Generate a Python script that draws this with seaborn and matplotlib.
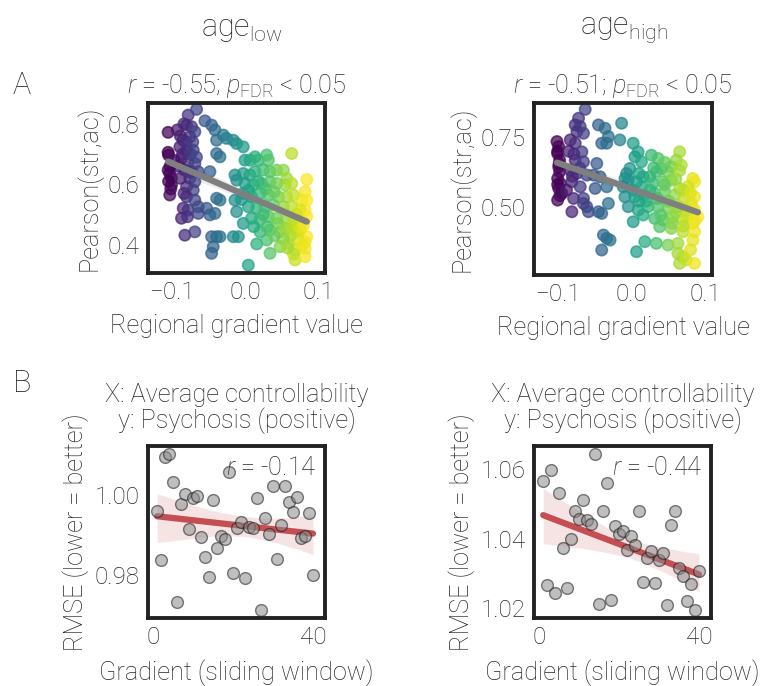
import numpy as np
import pandas as pd
import matplotlib
matplotlib.use("Agg")
import matplotlib.pyplot as plt
import seaborn as sns

# ---------------- data ----------------
# Panel A, age_low: regional gradient value vs Pearson(str,ac)
grad_low = [
    -0.1046, -0.1046, -0.1040, -0.1046, -0.1023, -0.1000, -0.1000, -0.1023,
    -0.0773, -0.0659, -0.0795, -0.0727, -0.0682, -0.0841, -0.0750, -0.0886,
    -0.0795, -0.0704, -0.0864, -0.0773, -0.0682, -0.0818, -0.0727, -0.0636,
    -0.0750, -0.0682, -0.0795, -0.0704, -0.0795, -0.0682, -0.0841, -0.0773,
    -0.0864, -0.0782, -0.0818, -0.0682, -0.0636, -0.0522, -0.0636,
    -0.0545, -0.0454, -0.0409, -0.0386, -0.0295, -0.0386, -0.0340, -0.0477,
    -0.0386, -0.0340, -0.0477, -0.0409, -0.0454, -0.0386, -0.0432, -0.0454, -0.0340,
    -0.0250, -0.0159, -0.0113, -0.0136, -0.0113, -0.0136, -0.0113, -0.0159, -0.0090,
    -0.0023, 0.0000, 0.0068, 0.0137, 0.0182, 0.0296, 0.0319, 0.0637,
    -0.0023, 0.0068, 0.0137, 0.0250, 0.0341, 0.0432, 0.0523, 0.0569, 0.0842,
    0.0000, 0.0114, 0.0228, 0.0341, 0.0432, 0.0546, 0.0637, 0.0819,
    -0.0023, 0.0091, 0.0205, 0.0319, 0.0455, 0.0569, 0.0660, 0.0774, 0.0842, 0.0819,
    0.0046, 0.0160, 0.0273, 0.0387, 0.0523, 0.0637, 0.0751,
    -0.0023, 0.0091, 0.0205, 0.0319, 0.0432, 0.0546, 0.0660, 0.0774, 0.0842,
    0.0205, 0.0341, 0.0478, 0.0614, 0.0705, 0.0842, 0.0819,
    0.0160, 0.0296, 0.0341, 0.0478, 0.0592, 0.0682, 0.0682, 0.0819, 0.0819, 0.0046,
    -0.0920, -0.0880, -0.0830, -0.0850, -0.0900, -0.0800, -0.0740, -0.0710,
    -0.0660, -0.0880, -0.0830, -0.0760, -0.0970, -0.1020, -0.1040, -0.1010,
    0.0450, 0.0550, 0.0650, 0.0750, 0.0720, 0.0620, 0.0520, 0.0400, 0.0300,
    0.0780, 0.0660, 0.0580, 0.0800, 0.0700, 0.0250, 0.0120,
    0.0050, 0.0180, 0.0280, 0.0400, -0.0050,
]
corr_low = [
    0.772, 0.706, 0.697, 0.647, 0.636, 0.620, 0.598, 0.565,
    0.829, 0.848, 0.796, 0.791, 0.774, 0.746, 0.757, 0.724,
    0.713, 0.713, 0.686, 0.675, 0.669, 0.647, 0.642, 0.642,
    0.620, 0.609, 0.592, 0.581, 0.559, 0.548, 0.521, 0.515,
    0.488, 0.493, 0.432, 0.443, 0.526, 0.521, 0.504,
    0.810, 0.796, 0.780, 0.746, 0.763, 0.702, 0.691, 0.642,
    0.554, 0.548, 0.499, 0.504, 0.427, 0.427, 0.394, 0.372, 0.427,
    0.752, 0.746, 0.735, 0.631, 0.614, 0.548, 0.510, 0.427, 0.427,
    0.724, 0.680, 0.680, 0.691, 0.680, 0.697, 0.680, 0.702,
    0.636, 0.631, 0.642, 0.647, 0.642, 0.647, 0.647, 0.620, 0.616,
    0.603, 0.598, 0.603, 0.609, 0.603, 0.598, 0.603, 0.576,
    0.570, 0.559, 0.570, 0.565, 0.559, 0.559, 0.565, 0.548, 0.548, 0.515,
    0.526, 0.521, 0.526, 0.532, 0.526, 0.526, 0.515,
    0.471, 0.488, 0.482, 0.493, 0.488, 0.482, 0.482, 0.482, 0.493,
    0.443, 0.449, 0.443, 0.449, 0.443, 0.427, 0.410,
    0.403, 0.416, 0.372, 0.394, 0.405, 0.383, 0.350, 0.388, 0.361, 0.333,
    0.780, 0.760, 0.800, 0.700, 0.660, 0.740, 0.700, 0.740,
    0.690, 0.620, 0.570, 0.640, 0.680, 0.660, 0.610, 0.585,
    0.470, 0.455, 0.460, 0.450, 0.420, 0.430, 0.420, 0.430, 0.460,
    0.400, 0.370, 0.390, 0.465, 0.500, 0.500, 0.460,
    0.580, 0.610, 0.585, 0.575, 0.550,
]

# Panel A, age_high
grad_high = [
    -0.1009, -0.0986, -0.1000, -0.0973, -0.0986, -0.0973, -0.1000, -0.0964, -0.0986, -0.1000, -0.0941,
    -0.0627, -0.0717, -0.0762, -0.0694, -0.0739, -0.0650, -0.0829, -0.0762, -0.0672, -0.0762, -0.0650,
    -0.0829, -0.0739, -0.0605, -0.0807, -0.0694, -0.0784, -0.0650, -0.0807, -0.0605, -0.0582, -0.0650,
    -0.0447, -0.0358, -0.0313, -0.0403, -0.0335, -0.0470, -0.0515, -0.0425, -0.0492, -0.0335,
    -0.0447, -0.0403, -0.0313, -0.0380, -0.0335, -0.0403, -0.0290,
    -0.0088,
    -0.0134, -0.0157, 0.0023, 0.0090, 0.0046, -0.0022, -0.0067, 0.0135, 0.0270, 0.0360, 0.0652,
    0.0607, 0.0674, 0.0539, 0.0495, 0.0405, 0.0337, 0.0248, 0.0158, 0.0068, -0.0044, 0.0831, 0.0854,
    -0.0112, 0.0023, 0.0135, 0.0292, 0.0427, 0.0539, 0.0652, 0.0764,
    -0.0089, 0.0046, 0.0180, 0.0315, 0.0450, 0.0584, 0.0719, 0.0854, 0.0809,
    -0.0044, 0.0090, 0.0225, 0.0360, 0.0495, 0.0629, 0.0741, 0.0899,
    0.0023, 0.0158, 0.0315, 0.0427, 0.0562, 0.0697, 0.0831,
    0.0382, 0.0539, 0.0697, 0.0854,
    0.0180, 0.0337, 0.0495, 0.0629, 0.0831,
    0.0068, 0.0629, 0.0697, 0.0652, 0.0741, 0.0854,
    -0.1000, -0.0980, -0.1000, -0.0970, -0.0850, -0.0780, -0.0700, -0.0800, -0.0880,
    0.0200, 0.0350, 0.0500, 0.0600, 0.0750, 0.0850, 0.0450, 0.0600, 0.0700, 0.0800,
    0.0100, 0.0250, 0.0400, 0.0550, 0.0700, 0.0800, 0.0860, 0.0100, 0.0300, 0.0450, 0.0650,
]
corr_high = [
    0.735, 0.717, 0.692, 0.668, 0.644, 0.626, 0.602, 0.584, 0.566, 0.524, 0.548,
    0.851, 0.819, 0.795, 0.789, 0.771, 0.765, 0.741, 0.729, 0.698, 0.668, 0.662,
    0.632, 0.620, 0.614, 0.590, 0.572, 0.530, 0.530, 0.482, 0.500, 0.482, 0.512,
    0.795, 0.783, 0.753, 0.729, 0.729, 0.656, 0.614, 0.608, 0.566, 0.572,
    0.482, 0.476, 0.512, 0.398, 0.386, 0.344, 0.380,
    0.602,
    0.801, 0.741, 0.729, 0.698, 0.680, 0.638, 0.620, 0.662, 0.686, 0.674, 0.698,
    0.668, 0.650, 0.644, 0.626, 0.638, 0.626, 0.608, 0.608, 0.590, 0.596, 0.602, 0.590,
    0.572, 0.560, 0.572, 0.584, 0.590, 0.596, 0.566, 0.572,
    0.536, 0.536, 0.542, 0.548, 0.554, 0.542, 0.530, 0.536, 0.512,
    0.500, 0.488, 0.500, 0.500, 0.494, 0.500, 0.488, 0.464,
    0.446, 0.470, 0.458, 0.452, 0.464, 0.452, 0.440,
    0.428, 0.422, 0.410, 0.410,
    0.374, 0.368, 0.362, 0.368, 0.380,
    0.338, 0.332, 0.320, 0.296, 0.308, 0.296,
    0.700, 0.655, 0.580, 0.540, 0.700, 0.690, 0.640, 0.610, 0.560,
    0.520, 0.530, 0.520, 0.480, 0.470, 0.490, 0.580, 0.600, 0.560, 0.550,
    0.520, 0.560, 0.470, 0.440, 0.430, 0.345, 0.450, 0.620, 0.640, 0.660, 0.630,
]

# Panel B: gradient (sliding window) vs RMSE
window = list(range(1, 41))
rmse_low = [
    0.9960, 0.9838, 1.0094, 1.0102, 1.0033, 0.9731, 0.9977, 1.0002, 0.9914, 0.9993,
    0.9998, 0.9894, 0.9844, 0.9794, 0.9988, 0.9868, 0.9896, 0.9890, 1.0057, 0.9804,
    0.9917, 0.9931, 0.9792, 0.9919, 0.9917, 0.9992, 0.9713, 0.9942, 0.9902, 1.0021,
    0.9840, 0.9925, 1.0021, 0.9983, 0.9958, 0.9994, 0.9892, 0.9897, 0.9954, 0.9800,
]
rmse_high = [
    1.0565, 1.0268, 1.0599, 1.0245, 1.0532, 1.0373, 1.0258, 1.0398, 1.0481, 1.0456,
    1.0513, 1.0453, 1.0443, 1.0645, 1.0213, 1.0479, 1.0561, 1.0225, 1.0436, 1.0414,
    1.0422, 1.0369, 1.0409, 1.0381, 1.0479, 1.0277, 1.0345, 1.0366, 1.0272, 1.0340,
    1.0360, 1.0208, 1.0440, 1.0479, 1.0317, 1.0294, 1.0220, 1.0270, 1.0196, 1.0306,
]

col_titles = [r"age$_{\mathregular{low}}$", r"age$_{\mathregular{high}}$"]
a_titles = [r"$r$ = -0.55; $p_{\mathregular{FDR}}$ < 0.05", r"$r$ = -0.51; $p_{\mathregular{FDR}}$ < 0.05"]
b_rtext = [r"$r$ = -0.14", r"$r$ = -0.44"]
b_title = "X: Average controllability\ny: Psychosis (positive)"

# ---------------- style ----------------
sns.set_theme(style="white")
TXT = "#262626"
plt.rcParams["font.family"] = ["Roboto", "DejaVu Sans"]
plt.rcParams["font.weight"] = "light"
plt.rcParams["axes.labelweight"] = "light"
plt.rcParams["axes.titleweight"] = "light"
plt.rcParams["mathtext.fontset"] = "custom"
plt.rcParams["mathtext.rm"] = "Roboto:light"
plt.rcParams["mathtext.it"] = "Roboto:italic:light"
plt.rcParams["text.color"] = TXT
plt.rcParams["axes.labelcolor"] = TXT
plt.rcParams["xtick.color"] = TXT
plt.rcParams["ytick.color"] = TXT
plt.rcParams["axes.unicode_minus"] = True

FS = 18.2
TFS = 17.5

fig = plt.figure(figsize=(7.61, 6.86), dpi=100)
W, H = 761, 686


def add_ax(x0, y0, x1, y1):
    return fig.add_axes([x0 / W, 1 - y1 / H, (x1 - x0) / W, (y1 - y0) / H])


ax_tl = add_ax(148, 103, 325, 273)
ax_tr = add_ax(534, 103, 712, 275)
ax_bl = add_ax(148, 446, 325, 618)
ax_br = add_ax(534, 446, 711, 618)

# ---- Panel A ----
for ax, gx, gy, ttl, ylim, yt in [
    (ax_tl, grad_low, corr_low, a_titles[0], (0.307, 0.869), [0.4, 0.6, 0.8]),
    (ax_tr, grad_high, corr_high, a_titles[1], (0.254, 0.874), [0.50, 0.75]),
]:
    df = pd.DataFrame({"g": gx, "c": gy})
    sns.scatterplot(data=df, x="g", y="c", hue="g", palette="viridis", s=66,
                    alpha=0.72, edgecolor="face", linewidth=1.2, legend=False, ax=ax,
                    zorder=2)
    sns.regplot(data=df, x="g", y="c", scatter=False, color="#7f7f7f", ax=ax,
                line_kws=dict(lw=4.5, zorder=3), ci=95)
    ax.set_xlim(-0.132, 0.109)
    ax.set_ylim(*ylim)
    ax.set_xticks([-0.1, 0.0, 0.1])
    ax.set_xticklabels(["\u22120.1", "0.0", "0.1"])
    ax.set_yticks(yt)
    ax.set_yticklabels([f"{v:.1f}" if len(yt) == 3 else f"{v:.2f}" for v in yt])
    ax.set_xlabel("Regional gradient value", fontsize=FS, labelpad=7)
    ax.set_ylabel("Pearson(str,ac)", fontsize=FS, labelpad=4)
    ax.set_title(ttl, fontsize=FS, pad=7)

# ---- Panel B ----
for ax, ry, rt, ylim, yt in [
    (ax_bl, rmse_low, b_rtext[0], (0.9692, 1.0122), [0.98, 1.00]),
    (ax_br, rmse_high, b_rtext[1], (1.0172, 1.0667), [1.02, 1.04, 1.06]),
]:
    df = pd.DataFrame({"w": window, "r": ry})
    sns.regplot(data=df, x="w", y="r", scatter=False, color="#c44e52", ax=ax,
                line_kws=dict(lw=4.5, zorder=2), ci=95)
    sns.scatterplot(data=df, x="w", y="r", color="#8c8c8c", s=72, alpha=0.55,
                    edgecolor="#1a1a1a", linewidth=1.0, ax=ax, zorder=3)
    ax.set_xlim(-1.3, 43)
    ax.set_ylim(*ylim)
    ax.set_xticks([0, 40])
    ax.set_yticks(yt)
    ax.set_yticklabels([f"{v:.2f}" for v in yt])
    ax.set_xlabel("Gradient (sliding window)", fontsize=FS, labelpad=7)
    ax.set_ylabel("RMSE (lower = better)", fontsize=FS, labelpad=4)
    ax.set_title(b_title, fontsize=FS, pad=13, linespacing=1.0)
    ax.text(0.95, 0.87, rt, transform=ax.transAxes, ha="right", va="center",
            fontsize=FS, color=TXT)

for ax in [ax_tl, ax_tr, ax_bl, ax_br]:
    ax.tick_params(labelsize=TFS, length=0, pad=6)
    for s in ax.spines.values():
        s.set_visible(True)
        s.set_color("#222222")
        s.set_linewidth(2.8)

fig.text(242 / W, 1 - 30 / H, col_titles[0], ha="center", va="center", fontsize=22)
fig.text(624 / W, 1 - 30 / H, col_titles[1], ha="center", va="center", fontsize=22)
fig.text(22 / W, 1 - 86 / H, "A", ha="center", va="center", fontsize=22)
fig.text(22 / W, 1 - 383 / H, "B", ha="center", va="center", fontsize=22)

fig.savefig("out.png", dpi=100)
